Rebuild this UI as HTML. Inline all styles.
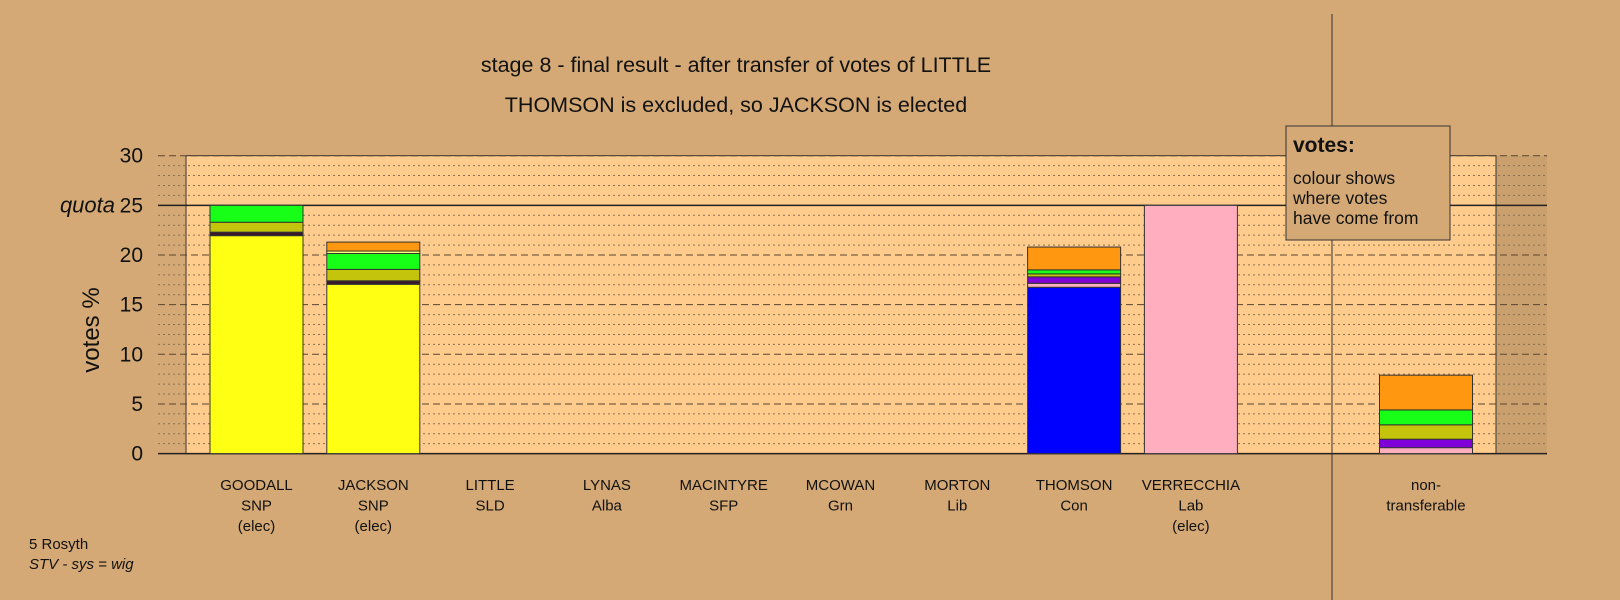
<!DOCTYPE html>
<html><head><meta charset="utf-8"><style>
html,body{margin:0;padding:0;background:#D4A975;}
svg{display:block;font-family:"Liberation Sans",Arial,sans-serif;}
</style></head><body>
<svg id="chart" width="1620" height="600" viewBox="0 0 1620 600">
<rect x="0" y="0" width="1620" height="600" fill="#D4A975"/>
<g id="grid"></g>
<g id="bars"></g>
<g id="labels"></g>
<text x="736" y="72" font-size="21.5" text-anchor="middle" fill="#111">stage 8 - final result - after transfer of votes of LITTLE</text>
<text x="736" y="112" font-size="21.5" text-anchor="middle" fill="#111">THOMSON is excluded, so JACKSON is elected</text>
<text transform="translate(99,330) rotate(-90)" font-size="24" text-anchor="middle" fill="#111">votes %</text>
<text x="29" y="549" font-size="15" fill="#111">5 Rosyth</text>
<text x="29" y="569" font-size="15" font-style="italic" fill="#111">STV - sys = wig</text>
<line x1="1332" y1="14" x2="1332" y2="600" stroke="#333" stroke-width="1"/>
<g>
<rect x="1286" y="126" width="164" height="114" fill="#D4A975" stroke="#333" stroke-width="1"/>
<text x="1293" y="152" font-size="21" font-weight="bold" fill="#111">votes:</text>
<text x="1293" y="184" font-size="17.5" fill="#111">colour shows</text>
<text x="1293" y="204" font-size="17.5" fill="#111">where votes</text>
<text x="1293" y="224" font-size="17.5" fill="#111">have come from</text>
</g>
</svg>
<script>
const categories = ["GOODALL","JACKSON","LITTLE","LYNAS","MACINTYRE","MCOWAN","MORTON","THOMSON","VERRECCHIA","non-"];
const parties = ["SNP","SNP","SLD","Alba","SFP","Grn","Lib","Con","Lab","transferable"];
const status = ["(elec)","(elec)","","","","","","","(elec)",""];
const segColors = ["#FFFF14","#3A1A2A","#C4C40C","#17FF17","#FFFF70","#FF9810","#FFAEC0","#8000D8","#0000FF"];
// segments per category: [colourIndex, value]
const stackGoodall = [[0,21.95],[1,0.35],[2,1.0],[3,1.7]];
const stackJackson = [[0,17.05],[1,0.35],[2,1.15],[3,1.6],[4,0.25],[5,0.9]];
const stackThomson = [[8,16.75],[6,0.4],[7,0.65],[2,0.3],[3,0.4],[5,2.3]];
const stackVerrecchia = [[6,25.0]];
const stackNonTrans = [[6,0.6],[7,0.85],[2,1.45],[3,1.5],[5,3.5]];
const stacks = [stackGoodall,stackJackson,[],[],[],[],[],stackThomson,stackVerrecchia,stackNonTrans];
const yTicks = [0,5,10,15,20,25,30];
const quota = 25;

(function(){
const NS="http://www.w3.org/2000/svg";
const y0=453.6, pxPer=9.93;
function yScale(v){return y0 - v*pxPer;}
function xCenter(i){return i<9 ? 256.5 + i*116.8 : 1426;}
const barW=93;
function mk(tag,attrs,parent){const e=document.createElementNS(NS,tag);for(const k in attrs)e.setAttribute(k,attrs[k]);parent.appendChild(e);return e;}
const grid=document.getElementById('grid'), bars=document.getElementById('bars'), labels=document.getElementById('labels');

const plotL=186, plotR=1496, outL=158, outR=1547, plotTop=yScale(30);
let r=mk('rect',{x:plotR,y:plotTop,width:outR-plotR,height:y0-plotTop,fill:'#C9A06E'},grid);


r=mk('rect',{x:plotL,y:plotTop,width:plotR-plotL,height:y0-plotTop,fill:'#FFCC8E',stroke:'#333','stroke-width':1},grid);


for(let v=1;v<30;v++){
  if(v%5===0) continue;
  const l=mk('line',{x1:outL,x2:outR,y1:yScale(v),y2:yScale(v),stroke:'#8a7050','stroke-width':1,'stroke-dasharray':'2,3'},grid);
  
  
}
yTicks.forEach(t=>{
  const solid = (t===0||t===quota);
  const l=mk('line',{x1:outL,x2:outR,y1:yScale(t),y2:yScale(t),stroke:solid?'#222':'#5a4530','stroke-width':solid?1.5:1,'stroke-dasharray':solid?'none':'7,4'},grid);
  
  
  const tx=mk('text',{x:143,y:yScale(t)+7,'font-size':21,'text-anchor':'end',fill:'#111'},labels);
  tx.textContent=String(t);
  
  
});
const q=mk('text',{x:115,y:yScale(quota)+7,'font-size':22,'font-style':'italic','text-anchor':'end',fill:'#111'},labels);
q.textContent='quota';



stacks.forEach((st,i)=>{
  let acc=0;
  const cx=xCenter(i);
  st.forEach(([c,v])=>{
    const yt=yScale(acc+v), yb=yScale(acc);
    const rr=mk('rect',{x:cx-barW/2,y:yt,width:barW,height:yb-yt,fill:segColors[c],stroke:'#333','stroke-width':1},bars);
    
    
    acc+=v;
  });
  [categories[i],parties[i],status[i]].forEach((s,k)=>{
    if(!s) return;
    const t=mk('text',{x:cx,y:490+k*20.5,'font-size':15,'text-anchor':'middle',fill:'#111'},labels);
    t.textContent=s;
    
    
  });
});
})();
</script>
</body></html>
